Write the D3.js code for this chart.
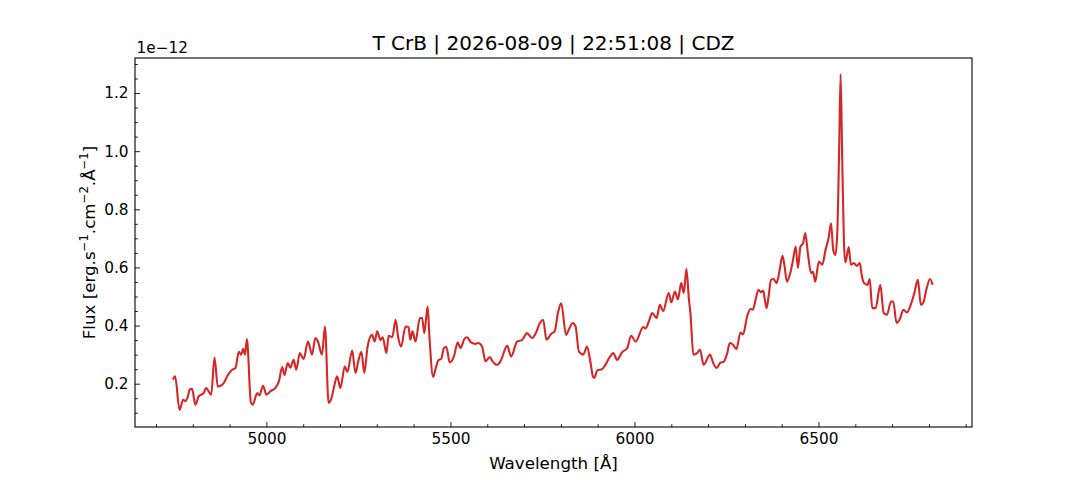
<!DOCTYPE html>
<html>
<head>
<meta charset="utf-8">
<script src="https://cdn.jsdelivr.net/npm/d3@7"></script>
<style>
  body { margin: 0; background: #fff; }
  text { font-family: "DejaVu Sans", sans-serif; fill: #000; }
</style>
</head>
<body>
<div id="chart"></div>
<script>
// spectrum (wavelength in Angstrom, flux in 1e-12 erg/s/cm2/A)
const wavelength = [
  4746, 4752, 4764, 4774, 4780, 4785, 4792, 4798, 4807, 4816, 4830, 4836, 4850, 4859, 4868,
  4884, 4893, 4907, 4916, 4925, 4931, 4937, 4942, 4947, 4958, 4963, 4975, 4981, 4991, 5000,
  5012, 5024, 5034, 5043, 5049, 5058, 5065, 5074, 5081, 5091, 5101, 5113, 5124, 5133, 5140,
  5151, 5159, 5169, 5178, 5184, 5192, 5201, 5213, 5220, 5233, 5242, 5250, 5258, 5266, 5275,
  5287, 5294, 5301, 5310, 5316, 5326, 5332, 5342, 5351, 5358, 5366, 5378, 5386, 5391, 5397,
  5405, 5417, 5423, 5429, 5438, 5443, 5453, 5459, 5468, 5475, 5482, 5489, 5498, 5509, 5520,
  5527, 5538, 5545, 5556, 5568, 5575, 5586, 5595, 5607, 5614, 5627, 5636, 5654, 5665, 5681,
  5695, 5708, 5722, 5734, 5743, 5752, 5761, 5774, 5783, 5792, 5801, 5814, 5823, 5832, 5840,
  5849, 5861, 5871, 5880, 5887, 5891, 5899, 5912, 5921, 5933, 5942, 5953, 5966, 5980, 5991,
  6003, 6024, 6030, 6039, 6048, 6060, 6069, 6078, 6093, 6100, 6110, 6118, 6127, 6134, 6141,
  6148, 6152, 6160, 6170, 6178, 6188, 6205, 6214, 6223, 6234, 6242, 6252, 6259, 6268, 6277,
  6288, 6295, 6306, 6315, 6322, 6328, 6337, 6343, 6350, 6354, 6359, 6365, 6371, 6378, 6386,
  6393, 6402, 6408, 6414, 6423, 6430, 6438, 6444, 6451, 6458, 6464, 6471, 6480, 6485, 6491,
  6501, 6510, 6519, 6528, 6534, 6540, 6546, 6551, 6556, 6560, 6564, 6569, 6573, 6582, 6588,
  6596, 6604, 6612, 6618, 6624, 6633, 6639, 6646, 6655, 6668, 6677, 6686, 6697, 6703, 6712,
  6720, 6731, 6740, 6752, 6760, 6770, 6778, 6785, 6794, 6803, 6810
];
const flux = [
  0.214, 0.225, 0.110, 0.145, 0.140, 0.150, 0.180, 0.182, 0.128, 0.156, 0.168, 0.185, 0.162, 0.290, 0.190,
  0.202, 0.225, 0.248, 0.254, 0.310, 0.300, 0.320, 0.300, 0.354, 0.134, 0.128, 0.168, 0.160, 0.193, 0.162,
  0.175, 0.185, 0.208, 0.257, 0.230, 0.271, 0.255, 0.282, 0.248, 0.305, 0.285, 0.345, 0.300, 0.357, 0.345,
  0.300, 0.397, 0.134, 0.156, 0.190, 0.225, 0.185, 0.260, 0.240, 0.314, 0.237, 0.280, 0.310, 0.237, 0.328,
  0.368, 0.345, 0.380, 0.350, 0.360, 0.305, 0.365, 0.360, 0.420, 0.360, 0.328, 0.397, 0.395, 0.351, 0.380,
  0.345, 0.426, 0.426, 0.374, 0.466, 0.360, 0.223, 0.248, 0.282, 0.285, 0.322, 0.326, 0.273, 0.292, 0.342,
  0.322, 0.354, 0.360, 0.342, 0.337, 0.340, 0.328, 0.277, 0.292, 0.278, 0.265, 0.277, 0.330, 0.294, 0.345,
  0.351, 0.374, 0.357, 0.380, 0.409, 0.420, 0.351, 0.372, 0.380, 0.443, 0.477, 0.368, 0.390, 0.409, 0.397,
  0.310, 0.300, 0.328, 0.277, 0.225, 0.220, 0.246, 0.250, 0.265, 0.292, 0.305, 0.282, 0.308, 0.322, 0.365,
  0.345, 0.395, 0.390, 0.414, 0.443, 0.426, 0.471, 0.450, 0.512, 0.480, 0.517, 0.490, 0.546, 0.512, 0.594,
  0.489, 0.443, 0.300, 0.305, 0.317, 0.265, 0.300, 0.271, 0.254, 0.273, 0.275, 0.305, 0.340, 0.334, 0.319,
  0.376, 0.370, 0.431, 0.457, 0.455, 0.483, 0.523, 0.515, 0.520, 0.490, 0.460, 0.506, 0.557, 0.560, 0.546,
  0.580, 0.640, 0.603, 0.551, 0.580, 0.620, 0.672, 0.598, 0.672, 0.683, 0.718, 0.649, 0.580, 0.585, 0.551,
  0.620, 0.609, 0.660, 0.706, 0.752, 0.660, 0.643, 0.720, 1.000, 1.265, 1.000, 0.690, 0.617, 0.670, 0.609,
  0.615, 0.605, 0.615, 0.569, 0.546, 0.540, 0.560, 0.460, 0.460, 0.540, 0.443, 0.437, 0.483, 0.483, 0.409,
  0.420, 0.454, 0.445, 0.477, 0.510, 0.557, 0.471, 0.480, 0.529, 0.560, 0.540
];
const xTicks = [5000, 5500, 6000, 6500];
const yTicks = [0.2, 0.4, 0.6, 0.8, 1.0, 1.2];
const titleText = "T CrB | 2026-08-09 | 22:51:08 | CDZ";

const margin = { top: 58, right: 108, bottom: 53, left: 135 };
const width = 1080 - margin.left - margin.right;
const height = 480 - margin.top - margin.bottom;

const data = wavelength.map((w, i) => ({ w: w, f: flux[i] }));

const svg = d3
  .select("#chart")
  .append("svg")
  .attr("width", 1080)
  .attr("height", 480)
  .append("g")
  .attr("transform", "translate(" + margin.left + "," + margin.top + ")");

const x = d3.scaleLinear().domain([4643, 6917]).range([0, width]);
const y = d3.scaleLinear().domain([0.051, 1.3205]).range([height, 0]);

// minor ticks
const xMinor = d3.range(4700, 6901, 100).filter((d) => !xTicks.includes(d));
const yMinor = d3.range(0.1, 1.31, 0.05).filter((d) => !yTicks.some((t) => Math.abs(t - d) < 1e-6));

svg
  .append("g")
  .attr("transform", "translate(0," + height + ")")
  .call(d3.axisBottom(x).tickValues(xMinor).tickSize(-2.8).tickFormat(""))
  .call((g) => g.select(".domain").remove());
svg
  .append("g")
  .call(d3.axisLeft(y).tickValues(yMinor).tickSize(-2.8).tickFormat(""))
  .call((g) => g.select(".domain").remove());

const xAxis = svg
  .append("g")
  .attr("transform", "translate(0," + height + ")")
  .call(d3.axisBottom(x).tickValues(xTicks).tickSize(-4.9).tickFormat(d3.format("d")));
xAxis.select(".domain").remove();
xAxis.selectAll("text").attr("font-size", 15.3).attr("dy", 0).attr("y", 17.3);

const yAxis = svg
  .append("g")
  .call(d3.axisLeft(y).tickValues(yTicks).tickSize(-4.9).tickFormat(d3.format(".1f")));
yAxis.select(".domain").remove();
yAxis.selectAll("text").attr("font-size", 15.3).attr("x", -6.5);

svg.selectAll(".tick line").attr("stroke", "#000").attr("stroke-width", 0.9);

// the spectrum
const line = d3
  .line()
  .x((d) => x(d.w))
  .y((d) => y(d.f))
  .curve(d3.curveMonotoneX);

svg
  .append("path")
  .datum(data)
  .attr("fill", "none")
  .attr("stroke", "#d62728")
  .attr("stroke-width", 2.1)
  .attr("stroke-linejoin", "round")
  .attr("d", line);

// frame
svg
  .append("rect")
  .attr("width", width)
  .attr("height", height)
  .attr("fill", "none")
  .attr("stroke", "#000")
  .attr("stroke-width", 1.1);

// texts
svg
  .append("text")
  .attr("x", width / 2)
  .attr("y", -8.5)
  .attr("text-anchor", "middle")
  .attr("font-size", 20)
  .text(titleText);

svg
  .append("text")
  .attr("x", 1.5)
  .attr("y", -5.5)
  .attr("font-size", 15.3)
  .text("1e\u221212");

svg
  .append("text")
  .attr("x", width / 2)
  .attr("y", height + 42)
  .attr("text-anchor", "middle")
  .attr("font-size", 16.7)
  .text("Wavelength [Å]");

const yLabel = svg
  .append("text")
  .attr("transform", "translate(-40," + height / 2 + ") rotate(-90)")
  .attr("text-anchor", "middle")
  .attr("font-size", 16.7);
const parts = [
  ["Flux [erg.s", 0], ["\u22121", 1], [".cm", 0], ["\u22122", 1], [".Å", 0], ["\u22121", 1], ["]", 0]
];
let prevSup = 0;
parts.forEach(([t, sup]) => {
  const shift = sup ? -7 : 0;
  yLabel
    .append("tspan")
    .attr("dy", shift - prevSup)
    .attr("font-size", sup ? 11.7 : 16.7)
    .text(t);
  prevSup = shift;
});
</script>
</body>
</html>
